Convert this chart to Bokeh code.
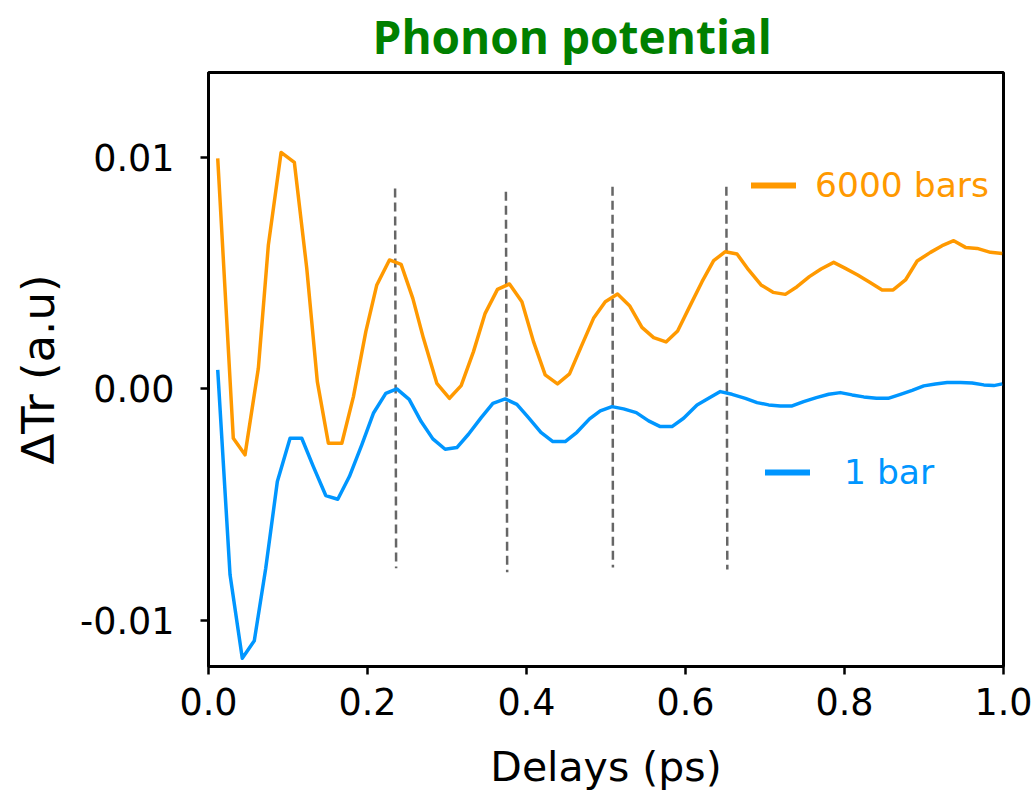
from bokeh.plotting import figure
from bokeh.models import Range1d, FixedTicker, Legend, LegendItem, ColumnDataSource
from bokeh.embed import file_html
from bokeh.resources import INLINE

# ---- data ----
delay_6000 = [0.0116, 0.0312, 0.0459, 0.0627, 0.0753, 0.0913, 0.1080, 0.1236, 0.1369, 0.1508,
              0.1677, 0.1823, 0.1979, 0.2117, 0.2276, 0.2423, 0.2570, 0.2704, 0.2872, 0.3031,
              0.3178, 0.3333, 0.3480, 0.3635, 0.3786, 0.3942, 0.4088, 0.4235, 0.4390, 0.4541,
              0.4688, 0.4843, 0.4991, 0.5145, 0.5296, 0.5452, 0.5599, 0.5755, 0.5901, 0.6052,
              0.6208, 0.6354, 0.6501, 0.6648, 0.6794, 0.6950, 0.7101, 0.7256, 0.7403, 0.7558,
              0.7705, 0.7864, 0.8011, 0.8166, 0.8317, 0.8473, 0.8612, 0.8767, 0.8914, 0.9081,
              0.9228, 0.9374, 0.9522, 0.9669, 0.9836, 0.9984]
dtr_6000 = [0.009940, -0.002145, -0.002861, 0.000876, 0.006202, 0.010199, 0.009767, 0.005192,
            0.000302, -0.002361, -0.002361, -0.000345, 0.002460, 0.004476, 0.005555, 0.005365,
            0.003897, 0.002171, 0.000229, -0.000419, 0.000129, 0.001597, 0.003250, 0.004286,
            0.004519, 0.003755, 0.002029, 0.000591, 0.000203, 0.000634, 0.001813, 0.003034,
            0.003755, 0.004087, 0.003582, 0.002646, 0.002201, 0.002016, 0.002490, 0.003539,
            0.004618, 0.005524, 0.005913, 0.005814, 0.005123, 0.004476, 0.004156, 0.004070,
            0.004402, 0.004834, 0.005166, 0.005451, 0.005192, 0.004907, 0.004588, 0.004260,
            0.004260, 0.004691, 0.005511, 0.005883, 0.006172, 0.006388, 0.006098, 0.006055,
            0.005883, 0.005839]

delay_1 = [0.0116, 0.0271, 0.0425, 0.0576, 0.0720, 0.0866, 0.1026, 0.1173, 0.1319, 0.1475,
           0.1626, 0.1772, 0.1928, 0.2074, 0.2230, 0.2369, 0.2524, 0.2675, 0.2822, 0.2977,
           0.3124, 0.3270, 0.3430, 0.3577, 0.3732, 0.3879, 0.4025, 0.4181, 0.4332, 0.4487,
           0.4634, 0.4793, 0.4928, 0.5075, 0.5221, 0.5381, 0.5536, 0.5683, 0.5830, 0.5976,
           0.6145, 0.6291, 0.6438, 0.6585, 0.6753, 0.6900, 0.7046, 0.7193, 0.7341, 0.7486,
           0.7646, 0.7801, 0.7948, 0.8096, 0.8242, 0.8402, 0.8549, 0.8704, 0.8851, 0.8997,
           0.9144, 0.9291, 0.9459, 0.9606, 0.9752, 0.9878, 0.9984]
dtr_1 = [0.000807, -0.008041, -0.011640, -0.010889, -0.007756, -0.004014, -0.002145, -0.002145,
         -0.003366, -0.004618, -0.004778, -0.003798, -0.002430, -0.001066, -0.000203, -0.000013,
         -0.000462, -0.001424, -0.002171, -0.002620, -0.002546, -0.001972, -0.001252, -0.000634,
         -0.000445, -0.000678, -0.001252, -0.001886, -0.002287, -0.002287, -0.001886, -0.001308,
         -0.000962, -0.000777, -0.000876, -0.001036, -0.001394, -0.001640, -0.001640, -0.001282,
         -0.000704, -0.000419, -0.000129, -0.000246, -0.000419, -0.000604, -0.000704, -0.000747,
         -0.000747, -0.000561, -0.000388, -0.000246, -0.000173, -0.000272, -0.000358, -0.000419,
         -0.000419, -0.000246, -0.000073, 0.000117, 0.000203, 0.000259, 0.000259, 0.000246,
         0.000160, 0.000129, 0.000203]

# phonon-period markers (dashed vertical guides)
marker_x_top = [0.2347, 0.3741, 0.5082, 0.6514]
marker_x_bottom = [0.2360, 0.3757, 0.5087, 0.6526]
marker_y_top = [0.00864, 0.00850, 0.00872, 0.00872]
marker_y_bottom = [-0.00776, -0.00793, -0.00773, -0.00781]

x_ticks = [0.0, 0.2, 0.4, 0.6, 0.8, 1.0]
x_tick_labels = ["0.0", "0.2", "0.4", "0.6", "0.8", "1.0"]
y_ticks = [-0.01, 0.0, 0.01]
y_tick_labels = ["-0.01", "0.00", "0.01"]

series_labels = ["6000 bars", "1 bar"]
title_text = "Phonon potential"
ORANGE = "#ff9900"
BLUE = "#0096ff"

p = figure(frame_width=795, frame_height=594, output_backend="svg", toolbar_location=None,
           x_range=Range1d(0.0, 1.0), y_range=Range1d(-0.0120, 0.01365),
           min_border_left=208, min_border_right=32, min_border_top=71, min_border_bottom=128)
p.background_fill_color = "white"
p.border_fill_color = "white"
p.xgrid.visible = False
p.ygrid.visible = False
p.outline_line_color = "black"
p.outline_line_width = 3

p.title.text = title_text
p.title.text_font = "Open Sans"
p.title.text_font_style = "bold"
p.title.text_font_size = "46px"
p.title.text_color = "#008000"
p.title.align = "left"
p.title.offset = 164
p.title.standoff = 8
p.title.vertical_align = "top"
p.title.text_line_height = 0.8

for ax in (p.xaxis[0], p.yaxis[0]):
    ax.axis_line_width = 3
    ax.axis_line_color = "black"
    ax.major_tick_line_width = 2.5
    ax.major_tick_out = 8
    ax.major_tick_in = 0
    ax.minor_tick_out = 0
    ax.minor_tick_in = 0
    ax.major_label_text_font = "DejaVu Sans"
    ax.major_label_text_font_size = "36.5px"
    ax.major_label_text_color = "black"
    ax.axis_label_text_font = "DejaVu Sans"
    ax.axis_label_text_font_style = "normal"
    ax.axis_label_text_color = "black"

p.xaxis.ticker = FixedTicker(ticks=x_ticks)
p.xaxis.major_label_overrides = dict(zip(x_ticks, x_tick_labels))
p.yaxis.ticker = FixedTicker(ticks=y_ticks)
p.yaxis.major_label_overrides = dict(zip(y_ticks, y_tick_labels))
p.xaxis.axis_label = "Delays (ps)"
p.xaxis.axis_label_text_font_size = "41px"
p.xaxis.major_label_standoff = 13
p.xaxis.axis_label_standoff = 25
p.yaxis.axis_label = "\u0394Tr (a.u)"
p.yaxis.axis_label_text_font_size = "45px"
p.yaxis.major_label_standoff = 26
p.yaxis.axis_label_standoff = 12

# dashed guides
p.segment(x0=marker_x_top, y0=marker_y_top, x1=marker_x_bottom, y1=marker_y_bottom,
          line_color="#555555", line_width=2.5, line_dash="9 5", line_alpha=0.9)

# data lines
p.line(delay_6000, dtr_6000, line_color=ORANGE, line_width=3.5, line_join="round")
p.line(delay_1, dtr_1, line_color=BLUE, line_width=3.5, line_join="round")

# legend proxies (no visible data, only used for the legend swatch)
nan = float("nan")
proxy_o = ColumnDataSource(data=dict(x=[nan, nan], y=[nan, nan]))
proxy_b = ColumnDataSource(data=dict(x=[nan, nan], y=[nan, nan]))
r_o = p.line("x", "y", source=proxy_o, line_color=ORANGE, line_width=6, line_cap="round")
r_b = p.line("x", "y", source=proxy_b, line_color=BLUE, line_width=6, line_cap="round")

def make_legend(label, rend, color, loc, standoff):
    leg = Legend(items=[LegendItem(label=label, renderers=[rend], index=0)], location=loc,
                 glyph_width=45, glyph_height=20, label_standoff=standoff, padding=0, margin=0,
                 border_line_color=None, background_fill_alpha=0,
                 label_text_font="DejaVu Sans", label_text_font_size="34.5px",
                 label_text_color=color)
    return leg

p.add_layout(make_legend(series_labels[0], r_o, ORANGE, (543, 461), 19))
p.add_layout(make_legend(series_labels[1], r_b, BLUE, (557, 174), 34))

open("out.html", "w").write(file_html(p, INLINE))
